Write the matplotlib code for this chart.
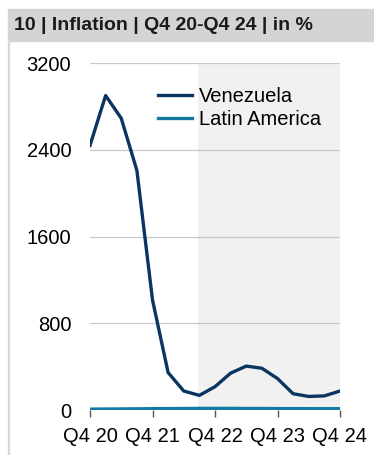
import matplotlib
matplotlib.use('Agg')
import matplotlib.pyplot as plt
from matplotlib.patches import Rectangle
from matplotlib.lines import Line2D
import numpy as np

# ── data (quarterly, Q4 20 .. Q4 24) ─────────────────────────────────────────
quarters = np.arange(17)
tick_pos = [0, 4, 8, 12, 16]
tick_labels = ['Q4 20', 'Q4 21', 'Q4 22', 'Q4 23', 'Q4 24']
venezuela = [2440, 2900, 2690, 2210, 1015, 345, 175, 135, 215, 340,
             405, 385, 290, 150, 125, 130, 175]
latin_america = [8, 9, 10, 11, 12, 13, 14, 15, 15, 15,
                 14, 14, 13, 13, 12, 12, 12]
shade_start = 6.9

plt.rcParams['font.family'] = ['Liberation Sans', 'DejaVu Sans']

W, H = 374, 455
fig = plt.figure(figsize=(W / 100, H / 100), dpi=100)

# title bar + left border
fig.patches.append(Rectangle((8 / W, 1 - 41 / H), 1 - 8 / W, 32 / H,
                             transform=fig.transFigure, color='#d4d4d4', zorder=0))
fig.lines.append(Line2D([9 / W, 9 / W], [0, 1 - 41 / H], transform=fig.transFigure,
                        color='#d8d8d8', lw=1.6))
fig.text(14 / W, 1 - 25.5 / H, '10 | Inflation | Q4 20-Q4 24 | in %',
         fontsize=14, fontweight='bold', color='#1a1a1a', va='center')

ax = fig.add_axes([90 / W, 45 / H, 250 / W, 347 / H])
ax.axvspan(shade_start, 16, color='#f1f1f1', zorder=0, lw=0)
ax.plot(quarters, venezuela, color='#0b3561', lw=2.4, label='Venezuela', zorder=3)
ax.plot(quarters, latin_america, color='#127aa0', lw=2.4, label='Latin America', zorder=4)

ax.set_xlim(0, 16)
ax.set_ylim(0, 3200)
ax.set_yticks([0, 800, 1600, 2400, 3200])
ax.set_xticks(tick_pos)
ax.set_xticklabels(tick_labels)
ax.yaxis.grid(True, color='#c8c8c8', lw=0.9, zorder=1)
ax.set_axisbelow(True)
for s in ax.spines.values():
    s.set_visible(False)
ax.tick_params(axis='y', length=0, pad=13.5, labelsize=14.5)
ax.tick_params(axis='x', length=5, width=1, color='#555555', pad=7, labelsize=14.5)

ax.legend(loc='upper left', bbox_to_anchor=(0.24, 0.955), frameon=False,
          fontsize=14.5, handlelength=1.7, handletextpad=0.35, labelspacing=0.2,
          borderaxespad=0)

fig.savefig('out.png', dpi=100)
